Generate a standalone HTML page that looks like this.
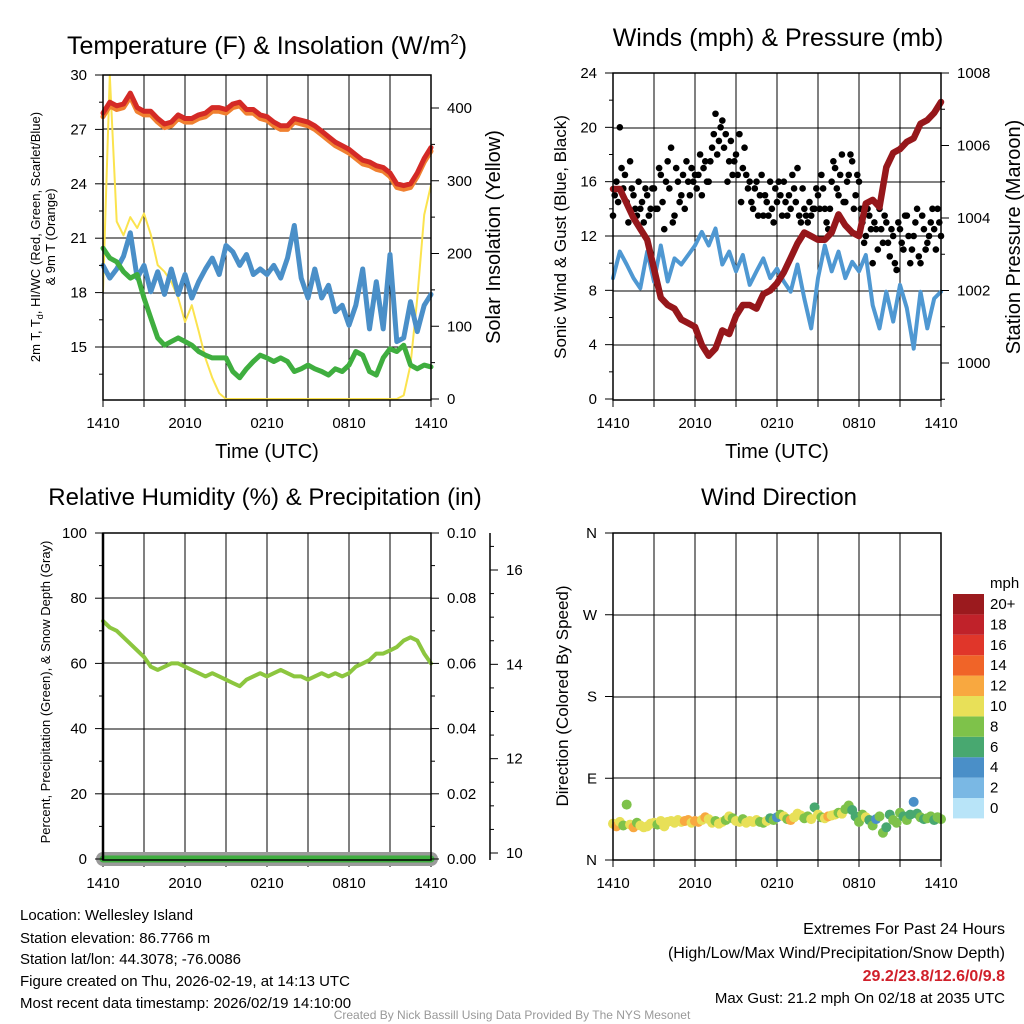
<!DOCTYPE html>
<html><head><meta charset="utf-8"><style>
html,body{margin:0;padding:0;background:#fff;}
svg{display:block;font-family:"Liberation Sans",Arial,sans-serif;}
</style></head><body>
<svg id="root" width="1024" height="1024" viewBox="0 0 1024 1024" xmlns="http://www.w3.org/2000/svg">
<g id="static">
<text x="267" y="54" font-size="25" text-anchor="middle">Temperature (F) &amp; Insolation (W/m<tspan font-size="15" dy="-10">2</tspan><tspan dy="10">)</tspan></text>
<text x="778" y="46" font-size="25" text-anchor="middle">Winds (mph) &amp; Pressure (mb)</text>
<text x="265" y="505" font-size="24" text-anchor="middle">Relative Humidity (%) &amp; Precipitation (in)</text>
<text x="779" y="505" font-size="24" text-anchor="middle">Wind Direction</text>
<text x="267" y="458" font-size="20" text-anchor="middle">Time (UTC)</text>
<text x="777" y="458" font-size="20" text-anchor="middle">Time (UTC)</text>
<g transform="translate(40,237) rotate(-90)"><text x="0" y="0" font-size="13" text-anchor="middle">2m T, T<tspan font-size="9" dy="3">d</tspan><tspan dy="-3">, HI/WC (Red, Green, Scarlet/Blue)</tspan></text><text x="0" y="15" font-size="13" text-anchor="middle">&amp; 9m T (Orange)</text></g>
<text transform="translate(500,237) rotate(-90)" font-size="20" text-anchor="middle">Solar Insolation (Yellow)</text>
<text transform="translate(566,237) rotate(-90)" font-size="17" text-anchor="middle">Sonic Wind &amp; Gust (Blue, Black)</text>
<text transform="translate(1020,237) rotate(-90)" font-size="20" text-anchor="middle">Station Pressure (Maroon)</text>
<text transform="translate(50,692) rotate(-90)" font-size="13" text-anchor="middle">Percent, Precipitation (Green), &amp; Snow Depth (Gray)</text>
<text transform="translate(568,696) rotate(-90)" font-size="17" text-anchor="middle">Direction (Colored By Speed)</text>
<g font-size="15">
<text x="20" y="920">Location: Wellesley Island</text>
<text x="20" y="943">Station elevation: 86.7766 m</text>
<text x="20" y="964">Station lat/lon: 44.3078; -76.0086</text>
<text x="20" y="986">Figure created on Thu, 2026-02-19, at 14:13 UTC</text>
<text x="20" y="1008">Most recent data timestamp: 2026/02/19 14:10:00</text>
</g>
<g font-size="16" text-anchor="end">
<text x="1005" y="934">Extremes For Past 24 Hours</text>
<text x="1005" y="958">(High/Low/Max Wind/Precipitation/Snow Depth)</text>
<text x="1005" y="981" fill="#d0202a" font-weight="bold">29.2/23.8/12.6/0/9.8</text>
<text x="1005" y="1003" font-size="15">Max Gust: 21.2 mph On 02/18 at 2035 UTC</text>
</g>
<text x="512" y="1019" font-size="12" fill="#999" text-anchor="middle">Created By Nick Bassill Using Data Provided By The NYS Mesonet</text>
</g>
</svg>
<script>
const NS="http://www.w3.org/2000/svg";
const root=document.getElementById('root');
// ---- data (half-hourly, 49 points, 1410 -> 1410 UTC) ----
const timeLabels=["1410","2010","0210","0810","1410"];
const tempRed=[27.9,28.5,28.3,28.4,29.0,28.2,28.0,28.0,27.6,27.3,27.4,27.8,27.6,27.6,27.8,27.9,28.2,28.2,28.1,28.4,28.5,28.1,28.1,27.8,27.7,27.4,27.2,27.2,27.6,27.5,27.4,27.2,26.9,26.6,26.3,26.1,25.9,25.6,25.3,25.2,25.0,24.9,24.6,24.0,23.9,24.0,24.6,25.4,26.0];
const temp9m=[27.7,28.3,28.1,28.2,28.8,28.0,27.8,27.8,27.4,27.1,27.2,27.6,27.4,27.4,27.6,27.7,28.0,28.0,27.9,28.2,28.3,27.9,27.9,27.6,27.5,27.2,27.0,27.0,27.4,27.3,27.2,27.0,26.7,26.4,26.1,25.9,25.7,25.4,25.1,25.0,24.8,24.7,24.4,23.8,23.7,23.8,24.4,25.2,25.8];
const windChill=[19.5,18.8,19.3,20.0,21.3,18.8,19.5,18.05,19.15,17.9,19.3,17.9,19.0,17.7,18.6,19.3,19.9,19.0,20.6,20.25,19.5,20.1,19.0,19.3,19.0,19.5,18.8,19.9,21.7,18.8,17.7,19.3,17.7,18.4,16.95,17.3,16.2,17.3,19.3,16.0,18.6,16.0,20.1,15.3,15.5,17.5,15.85,17.3,17.9];
const dewPoint=[20.45,19.9,19.7,19.15,18.8,19.0,17.7,16.6,15.5,15.1,15.3,15.5,15.3,15.1,14.75,14.55,14.4,14.4,14.4,13.65,13.3,13.8,14.2,14.55,14.4,14.2,14.4,14.2,13.65,13.8,14.0,13.8,13.65,13.45,13.8,13.65,14.0,14.75,14.55,13.65,13.45,14.4,14.9,14.75,15.1,14.0,13.8,14.0,13.9];
const insolation=[148,445,244,225,250,235,255,226,184,175,161,139,106,129,93,56,29,8,0,0,0,0,0,0,0,0,0,0,0,0,0,0,0,0,0,0,0,0,0,0,0,0,0,0,5,47,139,253,294];
const windAvg=[8.9,10.85,9.9,8.9,8.15,10.85,8.65,11.3,8.65,10.35,9.9,10.6,11.3,12.3,11.3,12.55,9.9,10.85,9.4,10.6,8.4,9.4,10.35,8.9,9.6,8.65,7.9,9.9,7.4,5.2,8.9,11.3,9.4,10.85,8.9,10.1,9.4,10.6,6.9,5.2,7.9,5.7,8.4,6.7,3.7,7.9,5.2,7.4,7.9];
const pressure=[1004.8,1004.8,1004.4,1004.0,1003.7,1003.4,1002.6,1001.8,1001.6,1001.5,1001.2,1001.1,1001.0,1000.5,1000.2,1000.4,1000.9,1000.8,1001.3,1001.6,1001.6,1001.5,1001.9,1002.0,1002.2,1002.5,1002.9,1003.3,1003.6,1003.5,1003.4,1003.4,1003.6,1004.1,1003.8,1003.6,1003.5,1004.4,1004.5,1004.3,1005.4,1005.8,1005.9,1006.1,1006.2,1006.6,1006.7,1006.9,1007.2];
const relHum=[73,71,70,68,66,64,62,59,58,59,60,60,59,58,57,56,57,56,55,54,53,55,56,57,56,57,58,57,56,56,55,56,57,56,57,56,57,59,60,61,63,63,64,65,67,68,67,63,60];
const precip=[0,0,0,0,0,0,0,0,0,0,0,0,0,0,0,0,0,0,0,0,0,0,0,0,0,0,0,0,0,0,0,0,0,0,0,0,0,0,0,0,0,0,0,0,0,0,0,0,0];
// quarter-hourly, 97 points
const gust=[13.5,16.0,20.0,15.5,14.5,17.5,15.0,13.5,14.0,13.0,15.0,14.0,15.5,14.0,16.5,12.5,17.5,18.5,13.5,16.0,15.0,14.0,16.0,17.0,16.5,16.5,15.0,17.5,16.0,18.5,21.0,19.0,20.5,19.5,17.5,16.5,18.0,19.5,17.0,16.5,16.0,14.0,16.0,15.0,13.5,14.5,16.0,13.0,14.5,15.0,16.0,13.5,14.0,15.5,17.0,13.0,14.0,13.0,13.5,14.0,15.0,16.5,14.0,12.5,16.0,17.0,15.0,18.0,14.5,16.5,17.5,15.0,16.0,13.0,12.0,13.5,10.0,12.5,14.0,11.5,13.0,10.5,12.0,9.5,12.5,11.0,13.5,10.0,12.0,14.0,10.0,12.5,11.5,13.0,12.5,14.0,12.0];
// gust samples offset by ~7 minutes (96 points)
const gustB=[15.0,14.5,17.0,16.5,13.0,15.5,14.0,16.0,14.5,15.5,13.5,15.5,14.0,17.0,14.5,16.0,15.5,13.0,17.0,14.5,16.5,17.5,15.0,16.0,15.5,18.0,17.0,16.0,17.5,19.5,18.0,20.0,18.5,16.0,19.0,17.5,16.5,14.5,18.5,15.5,14.5,15.5,13.5,16.5,15.0,13.5,14.0,15.5,16.0,13.5,14.5,15.0,16.5,14.5,13.5,15.5,13.5,14.5,14.0,15.5,14.0,15.5,13.0,14.0,17.5,15.5,16.5,14.5,16.0,18.0,14.0,16.5,14.0,11.5,14.0,12.5,13.0,11.0,12.5,13.5,11.5,12.5,10.0,13.0,11.5,13.5,12.0,11.0,13.0,10.5,13.5,11.0,12.0,14.0,11.0,13.0];
const direction=[40,37,42,38,61,39,36,41,38,36,37,40,41,39,43,37,42,43,41,44,42,43,44,41,43,42,44,47,45,41,43,40,42,44,48,46,43,42,45,41,43,42,44,42,41,43,46,44,47,50,48,45,44,47,51,49,46,48,45,58,50,47,46,48,49,50,52,51,56,60,55,48,42,50,47,44,38,45,48,30,36,50,44,41,52,48,44,50,64,51,47,45,46,48,44,47,45];
const dirSpeed=[9,12.5,10,8.5,7,10.5,11,8.8,10,9,10.5,10.2,10.6,8.5,10.8,10,10.3,10.7,9.8,10.5,10.4,12.4,12.6,10.2,11.2,12.8,10.5,11.3,10.4,9.6,8.6,10.5,9.5,8.2,10.4,8.8,10.3,9.2,8.4,10.2,10.5,9.8,10.1,8.6,8.4,9.5,6.5,8.8,4.8,8.3,9.6,8.5,12.6,10.4,9.2,10.5,8.8,7.5,10.3,6.5,10.2,8.5,10.4,11,9.3,10.8,8.6,9.8,8.5,7.5,6.8,5.5,7.2,8.3,9.4,6.5,8.6,4.5,7.4,8.2,5.2,6.9,8.6,7.4,8.3,6.7,7.8,5.4,4.6,5.8,8.4,6.6,7.3,8.1,6.7,8.5,7.6];
const speedBinLabels=["0","2","4","6","8","10","12","14","16","18","20+"];
const speedColors=["#b8e4f8","#7ab8e4","#4a8fc8","#48a870","#7ec24a","#e8e058","#f8a840","#f06428","#e0362a","#c0222a","#9b1a1e"];

function el(tag,attrs,parent){const e=document.createElementNS(NS,tag);for(const k in attrs)e.setAttribute(k,attrs[k]);(parent||root).appendChild(e);return e;}
function lin(d0,d1,r0,r1){return v=>r0+(v-d0)*(r1-r0)/(d1-d0);}

function panel(name,x0,x1,y0,y1,grid){
  const g=el('g',{});
  
  
  for(let h=3;h<24;h+=3){const x=x0+(x1-x0)*h/24;el('line',{x1:x,x2:x,y1:y0,y2:y1,stroke:'#000','stroke-width':1},g);}
  grid.forEach(y=>{el('line',{x1:x0,x2:x1,y1:y,y2:y,stroke:'#000','stroke-width':1},g);});
  const xt=el('g',{'font-size':15,'text-anchor':'middle'});
  
  
  for(let h=0;h<=24;h+=3){const x=x0+(x1-x0)*h/24;el('line',{x1:x,x2:x,y1:y1,y2:y1+7,stroke:'#000'},xt);}
  timeLabels.forEach((t,i)=>{const x=x0+(x1-x0)*i/4;const tx=el('text',{x:x,y:y1+28},xt);tx.textContent=t;});
  return g;
}
function frame(x0,x1,y0,y1,name){const r=el('rect',{x:x0,y:y0,width:x1-x0,height:y1-y0,fill:'none',stroke:'#000','stroke-width':1.5});}
function yAxis(name,x,vals,fy,fmt,side,minors){
  const g=el('g',{'font-size':15,'text-anchor':side<0?'end':'start'});
  
  
  vals.forEach(v=>{const y=fy(v);el('line',{x1:x,x2:x+side*8,y1:y,y2:y,stroke:'#000'},g);const t=el('text',{x:x+side*16,y:y+5},g);t.textContent=fmt(v);});
  (minors||[]).forEach(v=>{const y=fy(v);el('line',{x1:x,x2:x+side*4,y1:y,y2:y,stroke:'#000'},g);});
}
function line(name,xs,ys,color,w,extra){const p=el('polyline',Object.assign({points:xs.map((x,i)=>x.toFixed(1)+','+ys[i].toFixed(1)).join(' '),fill:'none',stroke:color,'stroke-width':w,'stroke-linejoin':'round','stroke-linecap':'round'},extra||{}));return p;}
function clip(id,x0,y0,x1,y1){const d=el('clipPath',{id:id});el('rect',{x:x0,y:y0,width:x1-x0,height:y1-y0},d);}
const tIdx=(n,x0,x1)=>i=>x0+(x1-x0)*i/(n-1);

// ===== Panel 1: temperature =====
{const x0=103,x1=431,y0=75,y1=400;
 const fy=lin(15,30,347,75), fs=lin(0,400,399,108), fx=tIdx(49,x0,x1);
 panel('temperature',x0,x1,y0,y1,[129,184,238,293,347]);
 clip('c1',x0,y0-5,x1,y1);
 const xs=tempRed.map((v,i)=>fx(i));
 line('insolation-line',xs,insolation.map(fs),'#fbe34e',2,{'clip-path':'url(#c1)'});
 line('windchill-line',xs,windChill.map(fy),'#4a8fc8',5);
 line('dewpoint-line',xs,dewPoint.map(fy),'#3fae3f',5);
 line('temp-9m-line',xs,temp9m.map(fy),'#f08030',5);
 line('temp-2m-line',xs,tempRed.map(fy),'#d42a26',5);
 frame(x0,x1,y0,y1,'temperature');
 yAxis('temperature-y-ticks',x0,[15,18,21,24,27,30],fy,v=>v,-1,[13.5,16.5,19.5,22.5,25.5,28.5]);
 yAxis('insolation-y-ticks',x1,[0,100,200,300,400],fs,v=>v,1,[50,150,250,350]);
}
// ===== Panel 2: winds =====
{const x0=613,x1=941,y0=73,y1=400;
 const fy=lin(0,24,399,73), fp=lin(1000,1008,363,73), fx=tIdx(49,x0,x1), fg=tIdx(97,x0,x1);
 panel('winds',x0,x1,y0,y1,[128,182,236,291,345]);
 line('wind-speed-line',windAvg.map((v,i)=>fx(i)),windAvg.map(fy),'#4f98d2',4);
 const gg=el('g',{});
 gust.forEach((v,i)=>{el('circle',{cx:fg(i),cy:fy(v),r:3.3,fill:'#000'},gg);});
 gustB.forEach((v,i)=>{el('circle',{cx:fg(i+0.5),cy:fy(v),r:3.3,fill:'#000'},gg);});
 line('pressure-line',pressure.map((v,i)=>fx(i)),pressure.map(fp),'#96171b',6.5);
 frame(x0,x1,y0,y1,'winds');
 yAxis('wind-y-ticks',x0,[0,4,8,12,16,20,24],fy,v=>v,-1,[2,6,10,14,18,22]);
 yAxis('pressure-y-ticks',x1,[1000,1002,1004,1006,1008],fp,v=>v,1,[999,1001,1003,1005,1007]);
}
// ===== Panel 3: humidity =====
{const x0=103,x1=431,y0=533,y1=860;
 const fy=lin(0,100,859,533), fpr=lin(0,0.1,859,533), fx=tIdx(49,x0,x1), fsd=lin(10,16,853,570);
 panel('humidity',x0,x1,y0,y1,[598,663,729,794]);
 const xs=relHum.map((v,i)=>fx(i));
 line('snow-depth-line',xs,precip.map(fpr),'#9a9a9a',14);
 line('precip-line',xs,precip.map(fpr),'#3fae3f',7);
 line('humidity-line',xs,relHum.map(fy),'#8cc63f',4);
 frame(x0,x1,y0,y1,'humidity');
 el('line',{x1:x0,x2:x0,y1:y0,y2:y1,stroke:'#000','stroke-width':2.5});
 yAxis('humidity-y-ticks',x0,[0,20,40,60,80,100],fy,v=>v,-1,[10,30,50,70,90]);
 yAxis('precip-y-ticks',x1,[0,0.02,0.04,0.06,0.08,0.10],fpr,v=>v.toFixed(2),1,[0.01,0.03,0.05,0.07,0.09]);
 el('line',{x1:490,x2:490,y1:y0,y2:y1,stroke:'#000','stroke-width':1.5});
 yAxis('snow-depth-y-ticks',490,[10,12,14,16],fsd,v=>v,1,[10.5,11,11.5,12.5,13,13.5,14.5,15,15.5,16.5]);
}
// ===== Panel 4: wind direction =====
{const x0=613,x1=941,y0=533,y1=860;
 const fd=lin(0,360,860,533), fg=tIdx(97,x0,x1);
 panel('direction',x0,x1,y0,y1,[615,697,778]);
 const gg=el('g',{});
 direction.forEach((d,i)=>{const b=Math.min(10,Math.max(0,Math.round(dirSpeed[i]/2)));el('circle',{cx:fg(i),cy:fd(d),r:5,fill:speedColors[b]},gg);});
 frame(x0,x1,y0,y1,'direction');
 const ag=el('g',{'font-size':15,'text-anchor':'end'});
 ["N","E","S","W","N"].forEach((t,i)=>{const y=fd(i*90);el('line',{x1:x0,x2:x0-8,y1:y,y2:y,stroke:'#000'},ag);const tx=el('text',{x:x0-16,y:y+5},ag);tx.textContent=t;});
 const cb=el('g',{'font-size':15});
 const t=el('text',{x:990,y:588},cb);t.textContent='mph';
 speedColors.forEach((c,i)=>{const y=798-i*20.4;el('rect',{x:953,y:y,width:31,height:20.4,fill:c},cb);const tx=el('text',{x:990,y:y+15},cb);tx.textContent=speedBinLabels[i];});
}
</script>
</body></html>
